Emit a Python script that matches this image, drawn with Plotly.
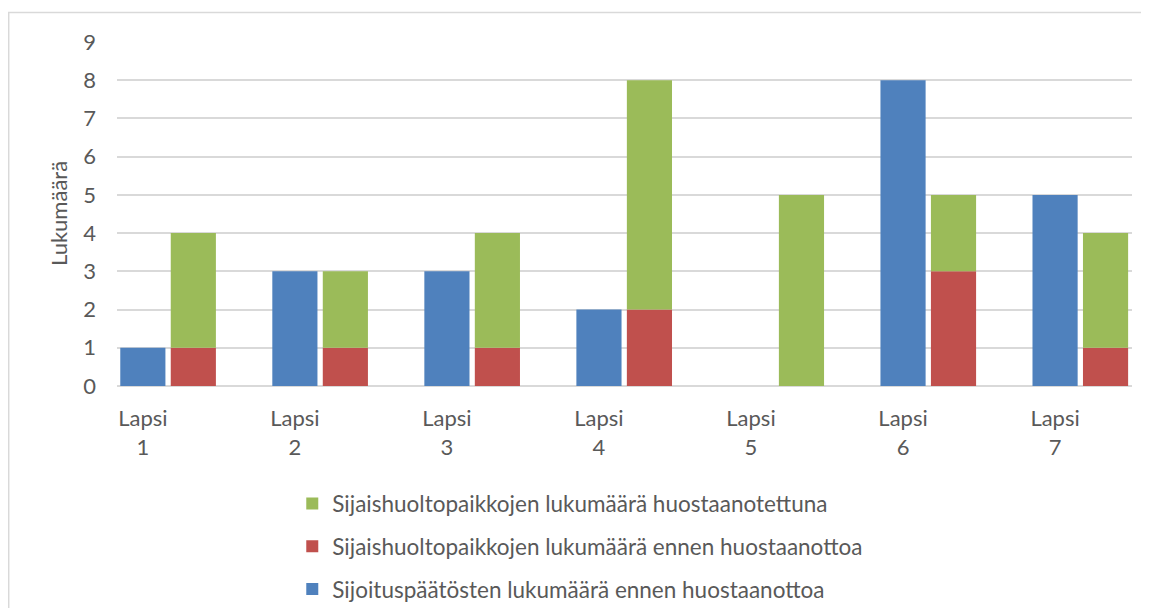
import plotly.graph_objects as go

categories = ["Lapsi 1", "Lapsi 2", "Lapsi 3", "Lapsi 4", "Lapsi 5", "Lapsi 6", "Lapsi 7"]
sijoituspaatokset = [1, 3, 3, 2, 0, 8, 5]
ennen = [1, 1, 1, 2, 0, 3, 1]
huostaanotettuna = [3, 2, 3, 6, 5, 2, 3]
y_ticks = [0, 1, 2, 3, 4, 5, 6, 7, 8, 9]

name_blue = "Sijoituspäätösten lukumäärä ennen huostaanottoa"
name_red = "Sijaishuoltopaikkojen lukumäärä ennen huostaanottoa"
name_green = "Sijaishuoltopaikkojen lukumäärä huostaanotettuna"
y_title = "Lukumäärä"

BLUE = "#4F81BD"
RED = "#C0504D"
GREEN = "#9BBB59"
TEXT = "#595959"
GRID = "#D9D9D9"
FONT = "Lato"

W = 0.297
GAP = 0.035

fig = go.Figure()
fig.add_trace(go.Bar(x=categories, y=sijoituspaatokset, name=name_blue,
                     marker=dict(color=BLUE, line=dict(width=0)),
                     width=W, offset=-W / 2, legendgroup="a", legendrank=3))
fig.add_trace(go.Bar(x=categories, y=ennen, name=name_red,
                     marker=dict(color=RED, line=dict(width=0)),
                     width=W, offset=W / 2 + GAP, legendgroup="b", legendrank=2))
fig.add_trace(go.Bar(x=categories, y=huostaanotettuna, base=ennen, name=name_green,
                     marker=dict(color=GREEN, line=dict(width=0)),
                     width=W, offset=W / 2 + GAP, legendgroup="c", legendrank=1))

fig.update_layout(
    width=1133, height=600,
    margin=dict(l=109, r=9, t=33.5, b=222, pad=0, autoexpand=False),
    barmode="overlay",
    plot_bgcolor="white", paper_bgcolor="white",
    font=dict(family=FONT, size=22, color=TEXT),
    showlegend=True,
    legend=dict(orientation="v", traceorder="grouped", tracegroupgap=10.5,
                xref="container", yref="container",
                x=0.2509, xanchor="left", y=0.2095, yanchor="top",
                font=dict(family=FONT, size=22.5, color=TEXT),
                bgcolor="rgba(0,0,0,0)"),
    xaxis=dict(type="category", range=[-0.17, 6.506], automargin=False,
               tickvals=categories, ticktext=[c.replace(" ", "<br>") for c in categories],
               showgrid=False, showline=False, zeroline=False, ticks="",
               ticklabelstandoff=17, tickfont=dict(family=FONT, size=22, color=TEXT)),
    yaxis=dict(range=[0, 9], tickvals=y_ticks, showgrid=True, gridcolor=GRID, gridwidth=1.5,
               automargin=False,
               zeroline=True, zerolinecolor=GRID, zerolinewidth=1.5, showline=False, ticks="",
               ticklabelstandoff=20, tickfont=dict(family=FONT, size=22, color=TEXT)),
    annotations=[dict(text=y_title, textangle=-90, xref="paper", yref="paper",
                      x=-0.0581, y=0.5, xanchor="center", yanchor="middle",
                      showarrow=False, font=dict(family=FONT, size=22, color=TEXT))],
    shapes=[dict(type="path", xref="paper", yref="paper",
                 path="M -0.1067,-0.7 L -0.1067,1.0856 L 1.02,1.0856",
                 line=dict(color=GRID, width=1.5), layer="below")],
)

fig.write_html("out.html")
